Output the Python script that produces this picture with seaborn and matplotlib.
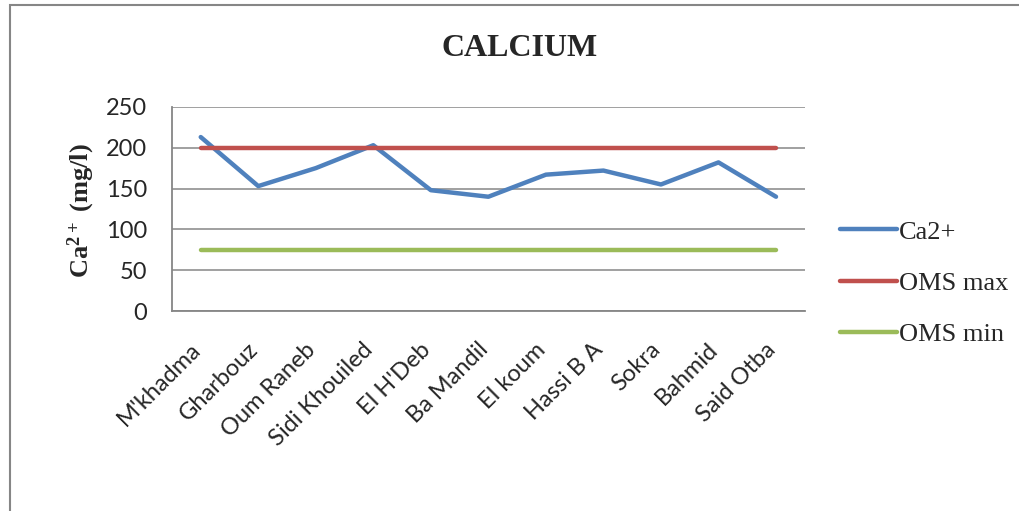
import matplotlib
matplotlib.use("Agg")
import matplotlib.pyplot as plt
from matplotlib.patches import Rectangle
from matplotlib.transforms import ScaledTranslation
import pandas as pd
import seaborn as sns

stations = ["M'khadma", "Gharbouz", "Oum Raneb", "Sidi Khouiled", "El H'Deb",
            "Ba Mandil", "El koum", "Hassi B A", "Sokra", "Bahmid", "Said Otba"]
ca = [213, 153, 175, 203, 148, 140, 167, 172, 155, 182, 140]
oms_max = [200] * len(stations)
oms_min = [75] * len(stations)
series_names = ["Ca2+", "OMS max", "OMS min"]
colors = ["#4F81BD", "#C0504D", "#9BBB59"]
yticks = [0, 50, 100, 150, 200, 250]

df = pd.DataFrame({"Station": stations, "Ca2+": ca,
                   "OMS max": oms_max, "OMS min": oms_min})
long = df.melt(id_vars="Station", value_vars=series_names,
               var_name="Série", value_name="Valeur")

sns.set_theme(style="white")
plt.rcParams["mathtext.default"] = "regular"

fig = plt.figure(figsize=(10.2, 5.11), dpi=100)
ax = fig.add_axes([0.1686, 0.391, 0.6204, 0.4])

sns.lineplot(data=long, x="Station", y="Valeur", hue="Série",
             hue_order=series_names, palette=colors, sort=False,
             linewidth=3.2, ax=ax, legend=True)
for ln in ax.lines:
    ln.set_solid_capstyle("round")

ax.set_xlim(-0.5, len(stations) - 0.5)
ax.set_ylim(0, 250)
ax.set_yticks(yticks)
ax.yaxis.grid(True, color="#868686", linewidth=1.1)
ax.set_axisbelow(True)
for s in ["top", "right"]:
    ax.spines[s].set_visible(False)
for s in ["left", "bottom"]:
    ax.spines[s].set_color("#868686")
    ax.spines[s].set_linewidth(1.3)
ax.tick_params(axis="x", length=0, pad=20)
ax.tick_params(axis="y", length=0, pad=18)
ax.set_xticks(range(len(stations)))
ax.set_xticklabels(stations, rotation=45, ha="right", va="top",
                   rotation_mode="anchor", family="Lato", fontsize=17)
# nudge rotated station names so their ends sit under the tick positions
shift = ScaledTranslation(-11 / 100, 0, fig.dpi_scale_trans)
for lab in ax.get_xticklabels():
    lab.set_transform(lab.get_transform() + shift)
for lab in ax.get_yticklabels():
    lab.set_family("Lato")
    lab.set_fontsize(17)
ax.set_xlabel("")
ax.set_ylabel("Ca$^{2+}$ (mg/l)", family="Liberation Serif",
              fontweight="bold", fontsize=19)
ax.yaxis.set_label_coords(-0.118, 0.49)

fig.text(0.509, 0.905, "CALCIUM", ha="center", va="center",
         family="Liberation Serif", fontweight="bold", fontsize=23)

ax.legend_.remove()
handles = ax.get_lines()[:3]
leg = fig.legend(handles, series_names, loc="center left",
                 bbox_to_anchor=(0.8235, 0.446), frameon=False,
                 borderaxespad=0, borderpad=0,
                 prop={"family": "Liberation Serif", "size": 19},
                 handlelength=2.15, handletextpad=0.1, labelspacing=1.05)

fig.patches.append(Rectangle((10 / 1020, -0.05), 1.1, 1 - 5 / 511 + 0.05,
                             transform=fig.transFigure, fill=False,
                             edgecolor="#868686", linewidth=1.5))

fig.savefig("out.png", dpi=100)
